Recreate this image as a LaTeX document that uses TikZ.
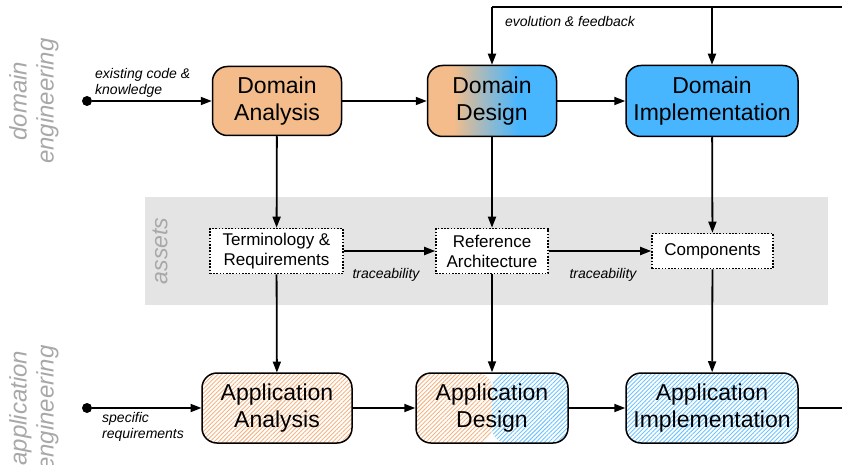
\documentclass[tikz,border=0pt]{standalone}
\usepackage{fontspec}
\setmainfont{Liberation Sans}
\usetikzlibrary{arrows.meta,patterns.meta}
\definecolor{orng}{RGB}{243,188,138}
\definecolor{blu}{RGB}{72,182,255}
\definecolor{hblu}{RGB}{110,195,255}
\definecolor{horng}{RGB}{244,180,130}
\definecolor{band}{RGB}{228,228,228}
\definecolor{lbl}{RGB}{168,168,168}
% orange-to-blue blend used by the design phase box (bbox maps to 25bp..75bp)
\pgfdeclarehorizontalshading{ddfade}{100bp}{color(0bp)=(orng); color(35bp)=(orng); color(47bp)=(blu!50!orng); color(60bp)=(blu); color(100bp)=(blu)}
\begin{document}
\begin{tikzpicture}[x=1pt,y=-1pt,
  phase/.style={draw=black, line width=1.5pt, rounded corners=15pt, align=center,
    inner sep=0pt, font=\fontsize{23}{27}\selectfont},
  asset/.style={draw=black, fill=white, line width=1.6pt, dash pattern=on 1.6pt off 1.6pt,
    align=center, inner sep=0pt, font=\fontsize{17}{20}\selectfont},
  wire/.style={line width=1.8pt},
  flow/.style={wire, -{Triangle[length=11pt,width=8pt]}},
  note/.style={font=\fontsize{14}{16}\selectfont\itshape, inner sep=0pt},
  side/.style={text=lbl, font=\fontsize{24}{27}\selectfont\itshape, rotate=90, align=center, inner sep=0pt},
  startdot/.style={circle, fill=black, inner sep=0pt, minimum size=10pt},
  hatchO/.style={pattern={Lines[angle=45,distance=3pt,line width=0.9pt]}, pattern color=horng},
  hatchB/.style={pattern={Lines[angle=45,distance=3pt,line width=0.9pt]}, pattern color=hblu}
]
\useasboundingbox (0,0) rectangle (842,465);

% assets band
\fill[band] (145,197) rectangle (828,305);

% side labels
\node[side] (lblDom) at (34,101) {domain\\engineering};
\node[side] (lblApp) at (34,408) {application\\engineering};
\node[side, font=\fontsize{23}{27}\selectfont\itshape] (lblAss) at (160,251) {assets};

% domain engineering row
\node[phase, fill=orng, minimum width=129pt, minimum height=69pt] (da) at (277,101) {Domain\\Analysis};
\node[phase, shading=ddfade, minimum width=129pt, minimum height=71pt] (dd) at (492,101) {Domain\\Design};
\node[phase, fill=blu, minimum width=172pt, minimum height=71pt] (di) at (712,101) {Domain\\Implementation};

% assets row
\node[asset, minimum width=133pt, minimum height=45pt] (tr) at (276.5,251) {Terminology \&\\Requirements};
\node[asset, minimum width=112pt, minimum height=45pt] (ra) at (492,251) {Reference\\Architecture};
\node[asset, minimum width=121pt, minimum height=35pt] (co) at (712.5,251) {Components};

% application engineering row
\node[phase, hatchO, minimum width=150pt, minimum height=70pt] (aa) at (277,408) {Application\\Analysis};
\node[phase, minimum width=152pt, minimum height=70pt,
  path picture={
    \fill[hatchO] (path picture bounding box.north west) rectangle (path picture bounding box.south);
    \fill[hatchB] (path picture bounding box.north) rectangle (path picture bounding box.south east);
  }] (ad) at (492,408) {Application\\Design};
\node[phase, hatchB, minimum width=172pt, minimum height=70pt] (ai) at (712,408) {Application\\Implementation};

% inputs
\node[startdot] (s1) at (87,101) {};
\node[startdot] (s2) at (87,408) {};
\node[note, anchor=west, align=left] (n1) at (95,83) {existing code \&\\knowledge};
\node[note, anchor=west, align=left] (n2) at (102,427) {specific\\requirements};

% feedback loop
\coordinate (fbR) at (842,7);
\coordinate (fbL) at (492,7);
\coordinate (fbM) at (712,7);
\coordinate (aout) at (842,408);
\node[note] (n3) at (570,22) {evolution \& feedback};

% connectors
\draw[flow] (s1) -- (da);
\draw[flow] (s2) -- (aa);
\draw[flow] (da) -- (dd);
\draw[flow] (dd) -- (di);
\draw[flow] (da) -- (tr);
\draw[flow] (dd) -- (ra);
\draw[flow] (di) -- (co);
\draw[flow] (tr) -- (aa);
\draw[flow] (ra) -- (ad);
\draw[flow] (co) -- (ai);
\draw[flow] (tr) -- (ra);
\draw[flow] (ra) -- (co);
\draw[flow] (aa) -- (ad);
\draw[flow] (ad) -- (ai);
\draw[wire] (ai) -- (aout);
\draw[wire] (fbR) -- (fbL);
\draw[flow] (fbL) -- (dd);
\draw[flow] (fbM) -- (di);

\node[note] (t1) at (386,275) {traceability};
\node[note] (t2) at (603,275) {traceability};
\end{tikzpicture}
\end{document}
